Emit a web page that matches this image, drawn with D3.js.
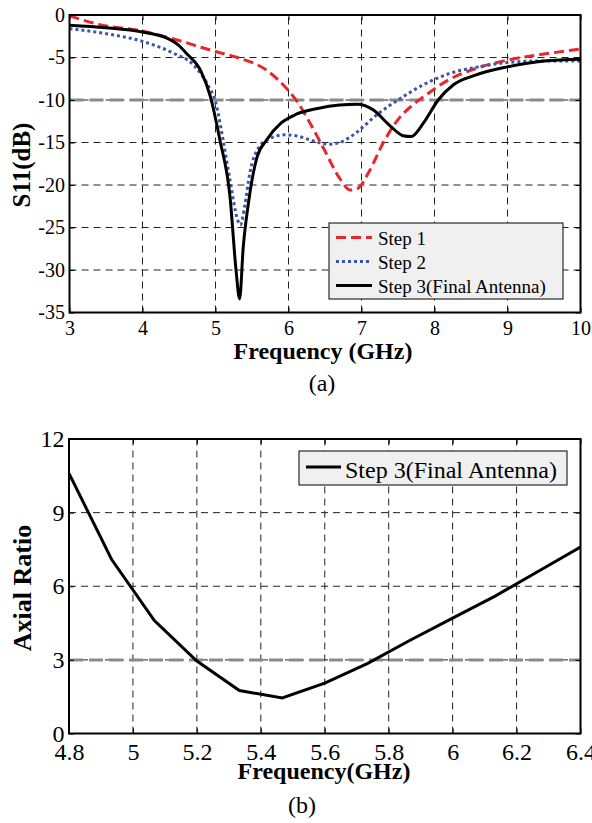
<!DOCTYPE html>
<html lang="en">
<head>
  <meta charset="UTF-8">
  <title>S11 and Axial Ratio</title>
  <script src="https://d3js.org/d3.v7.min.js"></script>
  <style>
    body {
      margin: 0;
      background: #fff;
    }
    svg {
      display: block;
    }
    svg text {
      font-family: "Liberation Serif", "Times New Roman", serif;
    }
  </style>
</head>
<body>

<svg id="fig" width="592" height="823"></svg>

<script>
// ---- data ----
// (a) S11 (dB) vs frequency (GHz)
const step1Freq = [3.0, 3.4, 4.0, 4.5, 4.8, 5.0, 5.3, 5.7, 6.0, 6.12, 6.3, 6.5, 6.7, 6.85, 6.95, 7.1, 7.3, 7.5, 7.7, 7.9, 8.2, 8.6, 9.0, 9.5, 10.0];
const step1S11 = [-0.1, -1.1, -1.9, -3.0, -3.8, -4.3, -5.0, -6.5, -8.9, -10.2, -12.8, -16.0, -19.2, -20.6, -20.4, -18.5, -15.0, -12.3, -10.6, -9.3, -7.6, -6.2, -5.3, -4.6, -4.0];

const step2Freq = [3.0, 3.5, 4.0, 4.4, 4.7, 4.9, 5.0, 5.1, 5.2, 5.3, 5.34, 5.4, 5.47, 5.6, 5.75, 5.95, 6.1, 6.3, 6.55, 6.7, 6.95, 7.2, 7.5, 7.85, 8.2, 8.6, 9.0, 9.5, 10.0];
const step2S11 = [-1.6, -2.2, -3.1, -4.4, -5.9, -8.3, -10.2, -14.5, -19.5, -24.0, -24.7, -22.5, -18.6, -15.5, -14.5, -14.1, -14.2, -14.7, -15.2, -15.0, -13.7, -11.8, -10.0, -8.2, -6.9, -6.1, -5.6, -5.4, -5.4];

const step3Freq = [3.0, 3.5, 4.0, 4.3, 4.5, 4.6, 4.8, 4.93, 5.06, 5.2, 5.28, 5.33, 5.38, 5.45, 5.5, 5.57, 5.7, 5.9, 6.1, 6.4, 6.7, 6.95, 7.15, 7.4, 7.57, 7.68, 7.85, 8.05, 8.26, 8.55, 9.0, 9.5, 10.0];
const step3S11 = [-1.2, -1.5, -2.0, -2.6, -3.6, -4.5, -6.6, -9.6, -14.7, -21.5, -29.9, -33.4, -27.3, -22.2, -19.4, -16.7, -14.7, -12.7, -11.7, -11.0, -10.6, -10.5, -11.1, -13.1, -14.2, -14.3, -12.7, -10.0, -8.2, -7.1, -6.1, -5.4, -5.2];

const s11Names = ["Step 1", "Step 2", "Step 3(Final Antenna)"];
const s11Ticks = [0, -5, -10, -15, -20, -25, -30, -35];
const freqTicksA = [3, 4, 5, 6, 7, 8, 9, 10];
const s11Ref = -10;

// (b) axial ratio vs frequency (GHz)
const arFreq = [4.8, 4.933, 5.067, 5.2, 5.333, 5.467, 5.6, 5.733, 5.867, 6.0, 6.133, 6.267, 6.4];
const arValue = [10.6, 7.1, 4.6, 2.95, 1.75, 1.45, 2.05, 2.85, 3.8, 4.7, 5.6, 6.6, 7.6];
const arName = "Step 3(Final Antenna)";
const arTicks = [0, 3, 6, 9, 12];
const freqTicksB = [4.8, 5, 5.2, 5.4, 5.6, 5.8, 6, 6.2, 6.4];
const arRef = 3;

const svg = d3.select("#fig");
const fmt = d => String(d);

// draws the box, grid, mirrored ticks and labels for one panel
function panel(opt) {
  const g = svg.append("g");
  const [x0, x1] = opt.x.range();
  const [y0, y1] = opt.y.range(); // y0 bottom, y1 top

  const clipId = opt.id + "-clip";
  g.append("clipPath").attr("id", clipId)
    .append("rect").attr("x", x0).attr("y", y1).attr("width", x1 - x0).attr("height", y0 - y1);

  // dashed grid
  const grid = g.append("g").attr("stroke", "#222").attr("stroke-width", 1).attr("stroke-dasharray", "7,5");
  grid.selectAll(".vx").data(opt.xTicks.slice(1, -1)).join("line")
    .attr("x1", d => opt.x(d)).attr("x2", d => opt.x(d))
    .attr("y1", y0).attr("y2", y1);
  grid.selectAll(".hy").data(opt.yTicks.filter(d => d !== opt.y.domain()[0] && d !== opt.y.domain()[1])).join("line")
    .attr("x1", x0).attr("x2", x1)
    .attr("y1", d => opt.y(d)).attr("y2", d => opt.y(d));

  // reference level
  g.append("line")
    .attr("x1", x0).attr("x2", x1)
    .attr("y1", opt.y(opt.ref)).attr("y2", opt.y(opt.ref))
    .attr("stroke", "#8a8a8a").attr("stroke-width", 3).attr("stroke-dasharray", "14,6");

  const plot = g.append("g").attr("clip-path", `url(#${clipId})`);

  // axes with inward ticks on all four sides
  const axB = g.append("g").attr("transform", `translate(0,${y0})`)
    .call(d3.axisBottom(opt.x).tickValues(opt.xTicks).tickFormat(fmt).tickSize(-5).tickPadding(opt.xPad));
  const axL = g.append("g").attr("transform", `translate(${x0},0)`)
    .call(d3.axisLeft(opt.y).tickValues(opt.yTicks).tickFormat(fmt).tickSize(-5).tickPadding(4.5));
  g.append("g").attr("transform", `translate(0,${y1})`)
    .call(d3.axisTop(opt.x).tickValues(opt.xTicks).tickFormat("").tickSize(-5));
  g.append("g").attr("transform", `translate(${x1},0)`)
    .call(d3.axisRight(opt.y).tickValues(opt.yTicks).tickFormat("").tickSize(-5));

  g.selectAll(".domain").remove();
  g.selectAll(".tick line").attr("stroke", "#000");
  [axB, axL].forEach(a => {
    a.attr("font-family", null);
    a.selectAll("text")
      .attr("fill", "#000")
      .style("font-family", "'Liberation Serif', 'Times New Roman', serif")
      .style("font-size", opt.tickFont + "px");
  });

  // box
  g.append("rect")
    .attr("x", x0).attr("y", y1).attr("width", x1 - x0).attr("height", y0 - y1)
    .attr("fill", "none").attr("stroke", "#000").attr("stroke-width", 2);

  // axis titles
  g.append("text")
    .attr("x", opt.xLabelX).attr("y", opt.xLabelY)
    .attr("text-anchor", "middle").attr("font-weight", "bold").attr("font-size", opt.labelFont)
    .text(opt.xLabel);
  g.append("text")
    .attr("transform", `translate(${opt.yLabelX},${opt.yLabelY}) rotate(-90)`)
    .attr("text-anchor", "middle").attr("font-weight", "bold").attr("font-size", opt.yLabelFont)
    .text(opt.yLabel);
  g.append("text")
    .attr("x", opt.capX).attr("y", opt.capY)
    .attr("text-anchor", "middle").attr("font-size", 24)
    .text(opt.caption);

  return {g, plot};
}

// ---- (a) S11 ----
const xA = d3.scaleLinear().domain([3, 10]).range([69.5, 580.5]);
const yA = d3.scaleLinear().domain([-35, 0]).range([312.5, 15]);

const pa = panel({
  id: "a", x: xA, y: yA, xTicks: freqTicksA, yTicks: s11Ticks, ref: s11Ref,
  xPad: 8, tickFont: 20,
  xLabel: "Frequency (GHz)", xLabelX: 323, xLabelY: 359, labelFont: 24,
  yLabel: "S11(dB)", yLabelX: 30, yLabelY: 165, yLabelFont: 25,
  caption: "(a)", capX: 322, capY: 391
});

const s11Series = [
  {name: s11Names[0], f: step1Freq, v: step1S11, color: "#e8262b", dash: "10,5"},
  {name: s11Names[1], f: step2Freq, v: step2S11, color: "#3b55a8", dash: "3,3"},
  {name: s11Names[2], f: step3Freq, v: step3S11, color: "#000", dash: null}
];

const lineA = d3.line()
  .x(d => xA(d[0]))
  .y(d => yA(d[1]))
  .curve(d3.curveMonotoneX);

s11Series.forEach(s => {
  pa.plot.append("path")
    .datum(d3.zip(s.f, s.v))
    .attr("fill", "none")
    .attr("stroke", s.color)
    .attr("stroke-width", 3)
    .attr("stroke-dasharray", s.dash)
    .attr("d", lineA);
});

// legend (a)
const legA = pa.g.append("g").attr("transform", "translate(329,223)");
legA.append("rect").attr("width", 234).attr("height", 76)
  .attr("fill", "#f0f0f0").attr("stroke", "#000").attr("stroke-width", 1);
s11Series.forEach((s, i) => {
  const cy = 14.5 + i * 24;
  legA.append("line")
    .attr("x1", 7).attr("x2", 43).attr("y1", cy).attr("y2", cy)
    .attr("stroke", s.color).attr("stroke-width", 3).attr("stroke-dasharray", s.dash);
  legA.append("text")
    .attr("x", 49).attr("y", cy + 7)
    .attr("font-size", 19)
    .text(s.name);
});

// ---- (b) Axial ratio ----
const xB = d3.scaleLinear().domain([4.8, 6.4]).range([69, 580.5]);
const yB = d3.scaleLinear().domain([0, 12]).range([733.5, 439]);

const pb = panel({
  id: "b", x: xB, y: yB, xTicks: freqTicksB, yTicks: arTicks, ref: arRef,
  xPad: 9, tickFont: 24,
  xLabel: "Frequency(GHz)", xLabelX: 324, xLabelY: 779, labelFont: 24,
  yLabel: "Axial Ratio", yLabelX: 31, yLabelY: 588, yLabelFont: 26,
  caption: "(b)", capX: 302, capY: 813
});

const lineB = d3.line()
  .x(d => xB(d[0]))
  .y(d => yB(d[1]));

pb.plot.append("path")
  .datum(d3.zip(arFreq, arValue))
  .attr("fill", "none")
  .attr("stroke", "#000")
  .attr("stroke-width", 3)
  .attr("d", lineB);

// legend (b)
const legB = pb.g.append("g").attr("transform", "translate(299,451)");
legB.append("rect").attr("width", 268).attr("height", 34)
  .attr("fill", "#f0f0f0").attr("stroke", "#000").attr("stroke-width", 1);
legB.append("line")
  .attr("x1", 7).attr("x2", 42).attr("y1", 16).attr("y2", 16)
  .attr("stroke", "#000").attr("stroke-width", 3);
legB.append("text")
  .attr("x", 46).attr("y", 27)
  .attr("font-size", 24)
  .text(arName);
</script>

</body>
</html>
